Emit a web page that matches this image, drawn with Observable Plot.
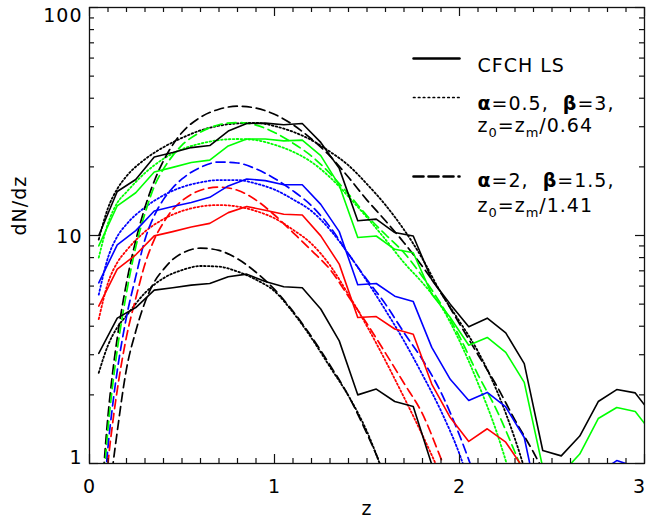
<!DOCTYPE html>
<html><head><meta charset="utf-8">
<script src="https://cdn.jsdelivr.net/npm/d3@7"></script>
<script src="https://cdn.jsdelivr.net/npm/@observablehq/plot@0.6"></script>
<style>body{margin:0;background:#fff}</style>
</head><body><div id="chart"></div>
<script>
// ---------- data ----------
// histogram bin centres (CFCHTLS measured dN/dz)
const zBins = [0.05,0.15,0.25,0.35,0.45,0.55,0.65,0.75,0.85,0.95,1.05,1.15,1.25,1.35,1.45,1.55,1.65,1.75,1.85,1.95,2.05,2.15,2.25,2.35,2.45,2.55,2.65,2.75,2.85,2.95,3.05];
const cfchBlackAll = [10.0,15.6,17.6,22.1,23.1,24.3,24.8,28.7,31.0,31.1,30.6,31.0,25.6,19.7,11.6,11.8,10.3,9.95,6.4,5.0,3.98,4.34,3.74,2.74,1.14,1.08,1.32,1.87,2.11,2.04,1.6];
const cfchGreen    = [9.0,13.5,15.4,19.0,19.9,20.9,21.4,24.7,26.5,26.5,26.0,26.2,22.4,16.6,9.8,9.95,8.7,8.4,5.53,4.37,3.3,3.57,3.07,2.27,0.96,0.9,1.1,1.575,1.76,1.69,1.33];
const cfchBlue     = [6.2,9.1,10.5,12.8,13.4,13.95,14.7,16.5,17.7,17.4,16.7,16.7,13.7,10.4,6.08,6.16,5.42,5.13,3.23,2.34,1.89,2.05,1.77,1.30,0.54,0.5,0.6,0.905,1.03,0.97,0.8];
const cfchRed      = [4.9,7.12,8.23,9.96,10.4,10.9,11.3,12.6,13.4,12.9,12.4,12.3,9.96,7.49,4.37,4.41,3.89,3.69,2.23,1.59,1.25,1.42,1.24,0.94,0.6,null,null,null,null,null,null];
const cfchBlackLow = [3.04,4.34,4.83,5.76,5.9,6.06,6.16,6.59,6.77,6.28,5.96,5.9,4.76,3.45,2.0,2.12,1.87,1.78,0.99,0.6,null,null,null,null,null,null,null,null,null,null,null];

// fit 1: alpha=0.5, beta=3 (dotted)
const zDot = [0.05,0.1,0.15,0.2,0.3,0.4,0.5,0.6,0.7,0.8,0.9,1.0,1.1,1.2,1.3,1.4,1.5,1.6,1.7,1.8,1.9,2.0,2.1,2.2,2.3,2.4];
const dotBlackAll = [9.6,13.2,16.0,18.2,21.6,24.4,26.8,28.9,30.3,31.0,31.2,30.2,28.5,26.2,23.3,20.3,16.8,13.6,10.6,7.9,5.6,4.2,3.1,2.1,1.28,0.7];
const dotGreen    = [8.0,11.3,13.9,15.5,18.8,21.7,23.9,25.3,26.2,26.5,26.2,25.0,23.3,21.0,18.0,14.8,12.0,9.6,7.6,6.2,4.9,3.45,2.25,1.38,0.75,null];
const dotBlue     = [5.5,8.0,9.9,11.2,13.3,15.0,16.3,17.1,17.5,17.5,16.9,15.9,14.4,12.8,10.6,8.3,6.3,4.7,3.45,2.45,1.7,1.1,0.62,null,null,null];
const dotRed      = [4.3,6.2,7.6,8.6,10.4,11.8,12.8,13.4,13.6,13.4,12.8,11.9,10.6,9.2,7.4,5.5,4.0,2.82,1.95,1.33,0.88,0.55,null,null,null,null];
const dotBlackLow = [2.5,3.3,3.95,4.45,5.6,6.5,7.05,7.35,7.3,6.95,6.4,5.7,4.6,3.55,2.65,1.98,1.38,0.85,null,null,null,null,null,null,null,null];

// fit 2: alpha=2, beta=1.5 (dashed)
const zDash = [0.07,0.1,0.125,0.15,0.2,0.25,0.3,0.35,0.4,0.45,0.5,0.6,0.7,0.8,0.9,1.0,1.1,1.2,1.3,1.4,1.5,1.6,1.7,1.8,1.9,2.0,2.1,2.2,2.3,2.4,2.5];
const dashBlackAll = [0.8,1.62,2.5,3.55,6.2,9.5,13.3,17.3,21.3,25.0,28.3,33.0,35.8,36.9,36.2,34.0,30.6,26.5,22.3,18.0,14.3,11.6,9.3,7.3,5.6,4.1,3.0,2.2,1.55,1.12,0.78];
const dashGreen    = [0.69,1.42,2.2,3.15,5.6,8.9,12.5,16.4,19.6,22.4,24.9,28.4,30.6,31.3,30.5,28.3,25.4,22.3,18.7,15.2,12.2,10.1,8.4,6.6,5.0,3.6,2.45,1.72,1.12,0.7,null];
const dashBlue     = [0.58,1.18,1.8,2.55,4.4,6.6,9.6,12.2,14.4,16.2,17.7,19.9,21.0,20.8,19.6,17.8,15.7,13.5,10.9,8.3,6.4,5.0,3.75,2.85,2.05,1.33,0.8,null,null,null,null];
const dashRed      = [0.49,1.0,1.5,2.1,3.6,5.3,7.5,9.6,11.4,13.0,14.2,15.8,16.3,15.8,14.3,12.3,10.3,8.6,7.1,5.4,4.1,3.05,2.25,1.65,1.05,0.65,null,null,null,null,null];
const dashBlackLow = [0.3,0.61,0.96,1.38,2.6,3.8,5.1,6.25,7.1,7.85,8.35,8.8,8.6,7.9,6.9,5.8,4.65,3.6,2.7,1.98,1.35,0.88,null,null,null,null,null,null,null,null,null];

// ticks and labels
const xMajorTicks = [0, 1, 2, 3];
const xMinorTicks = d3.range(1, 30).filter(i => i % 10 !== 0).map(i => i / 10);
const yMajorTicks = [1, 10, 100];
const yMinorTicks = [2,3,4,5,6,7,8,9,20,30,40,50,60,70,80,90];
const legendLabels = ["CFCH LS", "α=0.5,  β=3,", "z_0=z_m/0.64", "α=2,  β=1.5,", "z_0=z_m/1.41"];

// ---------- layout ----------
const W = 648, H = 523, mL = 89, mR = 4, mT = 7, mB = 60;
const fW = W - mL - mR, fH = H - mT - mB;
const majorLen = 9, minorLen = 5;

function series(zs, ns, color, dash, curve, sw) {
  const rows = zs.map((z, i) => ({z, n: ns[i]})).filter(d => d.n != null);
  return Plot.line(rows, {x: "z", y: "n", stroke: color, strokeWidth: sw,
    strokeDasharray: dash, curve, clip: true});
}
const dotted = "1.6,2.3", dashed = "9,5";
const colors = {k: "#000000", g: "#00ff00", b: "#0000ff", r: "#ff0000"};
const dot = (ns, c) => series(zDot, ns, c, dotted, "monotone-x", 1.8);
const dash = (ns, c) => series(zDash, ns, c, dashed, "monotone-x", 1.7);
const hist = (ns, c) => series(zBins, ns, c, null, "linear", 1.6);
const lineShape = {draw(ctx, l) { ctx.moveTo(0, 0); ctx.lineTo(0, -l); }};
function legendLine(dy, dasharray, sw) {
  return Plot.vector([0], {frameAnchor: "top-left", dx: 324, dy, length: 46, rotate: 90,
    anchor: "start", shape: lineShape, stroke: "black", strokeWidth: sw, strokeDasharray: dasharray});
}
function legendText(i, dy) {
  return Plot.text([legendLabels[i]], {frameAnchor: "top-left", dx: 388, dy, text: d => d,
    textAnchor: "start"});
}

const chart = Plot.plot({
  width: W, height: H,
  marginLeft: mL, marginRight: mR, marginTop: mT, marginBottom: mB,
  style: {fontFamily: "'DejaVu Sans', sans-serif", fontSize: "19px", color: "black", background: "white", letterSpacing: "1px"},
  x: {domain: [0, 3]},
  y: {type: "log", domain: [1, 100]},
  marks: [
    // model curves
    dot(dotBlackAll, colors.k), dot(dotGreen, colors.g), dot(dotBlue, colors.b),
    dot(dotRed, colors.r), dot(dotBlackLow, colors.k),
    dash(dashBlackAll, colors.k), dash(dashGreen, colors.g), dash(dashBlue, colors.b),
    dash(dashRed, colors.r), dash(dashBlackLow, colors.k),
    // measured histograms
    hist(cfchBlackAll, colors.k), hist(cfchGreen, colors.g), hist(cfchBlue, colors.b),
    hist(cfchRed, colors.r), hist(cfchBlackLow, colors.k),
    // frame and inward ticks on all four sides
    Plot.frame({stroke: "#111", strokeWidth: 1.3}),
    Plot.tickX(xMajorTicks, {x: d => d, insetTop: fH - majorLen, stroke: "#111", strokeWidth: 1.2}),
    Plot.tickX(xMinorTicks, {x: d => d, insetTop: fH - minorLen, stroke: "#111", strokeWidth: 1.2}),
    Plot.tickX(xMajorTicks, {x: d => d, insetBottom: fH - majorLen, stroke: "#111", strokeWidth: 1.2}),
    Plot.tickX(xMinorTicks, {x: d => d, insetBottom: fH - minorLen, stroke: "#111", strokeWidth: 1.2}),
    Plot.tickY(yMajorTicks, {y: d => d, insetRight: fW - majorLen, stroke: "#111", strokeWidth: 1.2}),
    Plot.tickY(yMinorTicks, {y: d => d, insetRight: fW - minorLen, stroke: "#111", strokeWidth: 1.2}),
    Plot.tickY(yMajorTicks, {y: d => d, insetLeft: fW - majorLen, stroke: "#111", strokeWidth: 1.2}),
    Plot.tickY(yMinorTicks, {y: d => d, insetLeft: fW - minorLen, stroke: "#111", strokeWidth: 1.2}),
    // tick labels
    Plot.axisX(xMajorTicks.slice(0, 3), {tickSize: 0, tickPadding: 16, tickFormat: d => String(d), label: null}),
    Plot.axisX(xMajorTicks.slice(3), {tickSize: 0, tickPadding: 16, dx: -5, tickFormat: d => String(d), label: null}),
    Plot.axisY([100], {tickSize: 0, tickPadding: 7, dy: 8, tickFormat: d => String(d), label: null}),
    Plot.axisY([10], {tickSize: 0, tickPadding: 7, dy: 1, tickFormat: d => String(d), label: null}),
    Plot.axisY([1], {tickSize: 0, tickPadding: 7, dy: -6, tickFormat: d => String(d), label: null}),
    // axis titles
    Plot.text(["z"], {frameAnchor: "bottom", dy: 51, text: d => d}),
    Plot.text(["dN/dz"], {frameAnchor: "left", dx: -70, rotate: -90, text: d => d}),
    // legend
    legendLine(51, null, 2.5),
    legendLine(90, "1.5,3.4", 1.7),
    legendLine(169, "10,5", 2.6),
    legendText(0, 51),
    legendText(1, 89),
    legendText(2, 111),
    legendText(3, 166),
    legendText(4, 191)
  ]
});

// rich text: bold Greek letters, subscripts
d3.select(chart).selectAll("text").each(function () {
  const s = this.textContent;
  if (!/[αβ_]/.test(s)) return;
  const sel = d3.select(this);
  sel.text(null);
  const re = /(α|β|_[0-9a-z])/g;
  let last = 0, m, pendingShift = 0;
  const add = (str, attrs) => {
    const t = sel.append("tspan").text(str);
    if (pendingShift) { t.attr("dy", -pendingShift + "px"); pendingShift = 0; }
    for (const k in attrs) t.attr(k, attrs[k]);
    return t;
  };
  while ((m = re.exec(s))) {
    if (m.index > last) add(s.slice(last, m.index), {});
    if (m[0] === "α" || m[0] === "β") add(m[0], {"font-weight": "bold"});
    else {
      const t = sel.append("tspan").text(m[0].slice(1)).attr("font-size", "13px");
      t.attr("dy", (5 - pendingShift) + "px"); pendingShift = 5;
    }
    last = m.index + m[0].length;
  }
  if (last < s.length) add(s.slice(last), {});
});

document.getElementById("chart").append(chart);
</script>
</body></html>
